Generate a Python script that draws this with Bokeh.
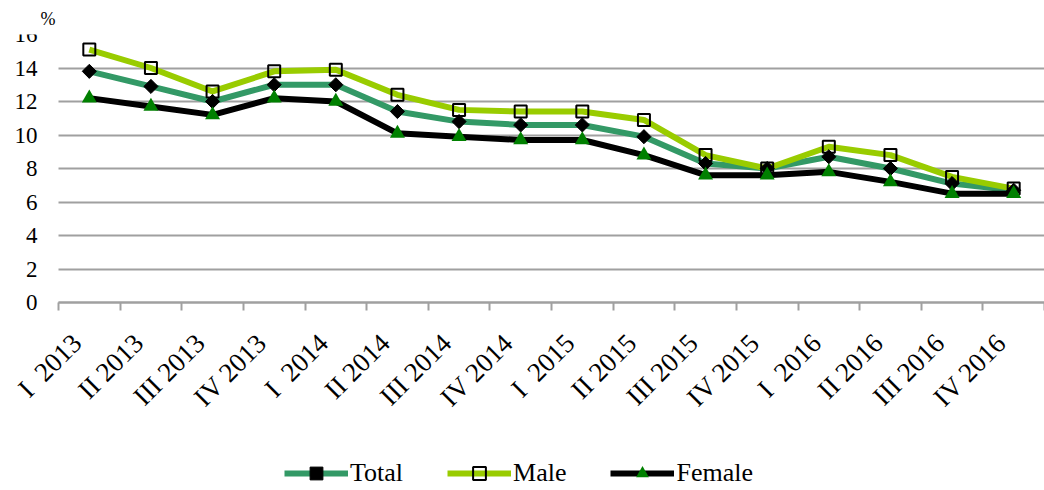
import math
from bokeh.plotting import figure
from bokeh.models import (Range1d, FixedTicker, Legend, LegendItem, Grid)
from bokeh.embed import file_html
from bokeh.resources import INLINE

categories = ["I\u00a0 2013", "II 2013", "III 2013", "IV 2013",
              "I\u00a0 2014", "II 2014", "III 2014", "IV 2014",
              "I\u00a0 2015", "II 2015", "III 2015", "IV 2015",
              "I\u00a0 2016", "II 2016", "III 2016", "IV 2016"]
total = [13.8, 12.9, 12.0, 13.0, 13.0, 11.4, 10.8, 10.6, 10.6, 9.9, 8.3, 8.0, 8.7, 8.0, 7.1, 6.7]
male = [15.1, 14.0, 12.6, 13.8, 13.9, 12.4, 11.5, 11.4, 11.4, 10.9, 8.8, 8.0, 9.3, 8.8, 7.5, 6.8]
female = [12.2, 11.7, 11.2, 12.2, 12.0, 10.1, 9.9, 9.7, 9.7, 8.8, 7.6, 7.6, 7.8, 7.2, 6.5, 6.5]
y_ticks = [0, 2, 4, 6, 8, 10, 12, 14, 16]

FONT = "Liberation Serif"
GRID = "#a0a0a0"
n = len(categories)
xs = [i + 0.5 for i in range(n)]
label_pos = [i + 0.3 for i in range(n)]

# layout: plot area 986px wide starting 58px from the left; the frame is
# extended to the left and bottom so the axis labels and legend are not clipped
LEFT = 58
PLOT_W = 986
FRAME_H = 456
Y_MAX = 16
Y_MIN = Y_MAX - FRAME_H * Y_MAX / 268.0
has_cb = "cross_bounds" in Grid.properties()
if has_cb:
    frame_w = PLOT_W + LEFT
    border_left = 0
    x_min = -LEFT / (PLOT_W / n)
    frame_left_px = 0
else:
    frame_w = PLOT_W
    border_left = LEFT
    x_min = 0
    frame_left_px = LEFT

p = figure(frame_width=frame_w, frame_height=FRAME_H, output_backend="svg",
           toolbar_location=None, x_range=Range1d(x_min, n),
           y_range=Range1d(Y_MIN, Y_MAX))
p.min_border_left = border_left
p.min_border_right = 0
p.min_border_top = 34
p.min_border_bottom = 0
p.outline_line_color = None
p.background_fill_color = "white"
p.border_fill_color = "white"

p.title.text = "%"
p.title.align = "left"
p.title.offset = 40 - frame_left_px
p.title.standoff = 12
p.title.text_font = FONT
p.title.text_font_size = "18px"
p.title.text_font_style = "normal"
p.title.text_color = "#000000"

# y axis
if has_cb:
    p.yaxis.fixed_location = 0
p.yaxis.ticker = FixedTicker(ticks=y_ticks)
p.yaxis.axis_line_color = None
p.yaxis.major_tick_line_color = None
p.yaxis.minor_tick_line_color = None
p.yaxis.major_label_text_font = FONT
p.yaxis.major_label_text_font_size = "23px"
p.yaxis.major_label_text_color = "black"
p.yaxis.major_label_standoff = 15
p.ygrid.ticker = FixedTicker(ticks=y_ticks)
p.ygrid.grid_line_color = GRID
p.ygrid.grid_line_width = 2
if has_cb:
    p.ygrid.cross_bounds = (0, n)
p.xgrid.grid_line_color = None

# x axis, drawn at value 0
p.xaxis.fixed_location = 0
p.xaxis.bounds = (0, n)
p.xaxis.ticker = FixedTicker(ticks=label_pos, minor_ticks=list(range(n + 1)))
p.xaxis.major_label_overrides = {x: c for x, c in zip(label_pos, categories)}
p.xaxis.major_label_orientation = math.pi / 4
p.xaxis.major_label_text_font = FONT
p.xaxis.major_label_text_font_size = "27px"
p.xaxis.major_label_text_color = "black"
p.xaxis.major_label_standoff = 28
p.xaxis.axis_line_color = GRID
p.xaxis.axis_line_width = 2
p.xaxis.major_tick_line_color = None
p.xaxis.minor_tick_line_color = GRID
p.xaxis.minor_tick_line_width = 2
p.xaxis.minor_tick_out = 8
p.xaxis.minor_tick_in = 0

lt = p.line(xs, total, line_color="#339966", line_width=6, line_join="round")
lm = p.line(xs, male, line_color="#99cc00", line_width=6, line_join="round")
lf = p.line(xs, female, line_color="#000000", line_width=6, line_join="round")
mt = p.scatter(xs, total, marker="square", angle=math.pi / 4, size=10,
               fill_color="black", line_color="black")
mm = p.scatter(xs, male, marker="square", size=12, fill_alpha=0,
               line_color="black", line_width=2)
mf = p.scatter(xs, female, marker="triangle", size=15, fill_color="#008000",
               line_color=None)

legend = Legend(items=[LegendItem(label="Total", renderers=[lt, mt]),
                       LegendItem(label="Male", renderers=[lm, mm]),
                       LegendItem(label="Female", renderers=[lf, mf])],
                orientation="horizontal", location=(284 - frame_left_px, 1),
                glyph_width=64, glyph_height=32, label_standoff=2, spacing=44,
                padding=0, margin=0, border_line_color=None,
                background_fill_alpha=0,
                label_text_font=FONT, label_text_font_size="26px",
                label_text_color="black")
p.add_layout(legend, "center")

open("out.html", "w").write(file_html(p, INLINE))
